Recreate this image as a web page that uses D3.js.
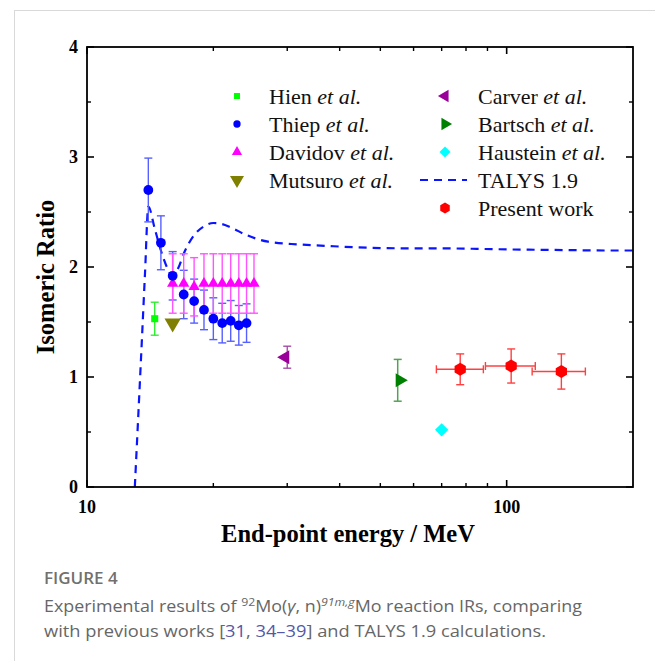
<!DOCTYPE html>
<html><head><meta charset="utf-8">
<script src="https://cdn.jsdelivr.net/npm/d3@7"></script>
<style>
html,body{margin:0;padding:0;background:#fff;}
svg{display:block;}
</style></head>
<body>
<svg id="chart" width="655" height="661"></svg>
<script>
// ---------- data ----------
const thiepE   = [14, 15, 16, 17, 18, 19, 20, 21, 22, 23, 24];
const thiepIR  = [2.70, 2.22, 1.92, 1.75, 1.69, 1.61, 1.53, 1.49, 1.51, 1.47, 1.49];
const thiepErr = [0.29, 0.245, 0.22, 0.22, 0.20, 0.18, 0.19, 0.18, 0.185, 0.18, 0.175];

const davidovE   = [16, 17, 18, 19, 20, 21, 22, 23, 24, 25];
const davidovIR  = [1.85, 1.85, 1.82, 1.85, 1.85, 1.85, 1.85, 1.85, 1.85, 1.85];
const davidovErr = [0.27, 0.27, 0.265, 0.27, 0.27, 0.27, 0.27, 0.27, 0.27, 0.27];

const hienE = [14.5], hienIR = [1.53], hienErr = [0.15];
const mutsuroE = [16], mutsuroIR = [1.49];
const carverE = [30], carverIR = [1.18], carverErr = [0.10];
const bartschE = [55], bartschIR = [0.97], bartschErr = [0.19];
const hausteinE = [70], hausteinIR = [0.52];

const presentE    = [77.5, 102.5, 135];
const presentIR   = [1.07, 1.10, 1.05];
const presentErr  = [0.14, 0.155, 0.16];
const presentElo  = [68, 89, 115];
const presentEhi  = [88, 117, 154];

const talysE  = [13.0, 13.25, 13.5, 13.75, 14.0, 14.5, 15.0, 15.5, 16.0, 16.5, 17, 18, 19, 20, 21, 22, 24, 27, 32, 38, 47, 57, 68, 85, 100, 130, 180, 200];
const talysIR = [0, 0.65, 1.3, 1.95, 2.55, 2.35, 2.15, 2.0, 1.92, 1.99, 2.12, 2.29, 2.37, 2.40, 2.39, 2.36, 2.29, 2.23, 2.205, 2.19, 2.175, 2.17, 2.17, 2.165, 2.16, 2.155, 2.15, 2.15];

const xMajorTicks = [10, 100];
const xMinorTicks = [20, 30, 40, 50, 60, 70, 80, 90];
const yMajorTicks = [0, 1, 2, 3, 4];
const yMinorTicks = [0.5, 1.5, 2.5, 3.5];

const xLabel = "End-point energy / MeV";
const yLabel = "Isomeric Ratio";

// ---------- layout ----------
const svg = d3.select("#chart");
const L = 87, R = 633, T = 47, B = 487;
const x = d3.scaleLog().domain([10, 200]).range([L, R]);
const y = d3.scaleLinear().domain([0, 4]).range([B, T]);
const serif = "'Liberation Serif','Times New Roman',serif";

// card border
svg.append("line").attr("x1", 14).attr("x2", 655).attr("y1", 10.5).attr("y2", 10.5).attr("stroke", "#d9d9d9");
svg.append("line").attr("x1", 14.5).attr("x2", 14.5).attr("y1", 10).attr("y2", 661).attr("stroke", "#d9d9d9");

// ---------- TALYS curve ----------
const talys = talysE.map((e, i) => ({e, v: talysIR[i]}));
const line = d3.line().x(d => x(d.e)).y(d => y(d.v)).curve(d3.curveMonotoneX);
svg.append("path").datum(talys).attr("d", line)
  .attr("fill", "none").attr("stroke", "#0a14ff").attr("stroke-width", 2.2)
  .attr("stroke-dasharray", "8,6");

// ---------- helpers ----------
function zip(E, V, Er) { return E.map((e, i) => ({e, v: V[i], err: Er ? Er[i] : 0})); }

function yErrBars(data, color, cap, width) {
  const g = svg.append("g").attr("stroke", color).attr("stroke-width", width || 1.3).attr("fill", "none");
  data.forEach(d => {
    const cx = x(d.e);
    g.append("line").attr("x1", cx).attr("x2", cx).attr("y1", y(d.v + d.err)).attr("y2", y(d.v - d.err));
    g.append("line").attr("x1", cx - cap).attr("x2", cx + cap).attr("y1", y(d.v + d.err)).attr("y2", y(d.v + d.err));
    g.append("line").attr("x1", cx - cap).attr("x2", cx + cap).attr("y1", y(d.v - d.err)).attr("y2", y(d.v - d.err));
  });
}

function hexPath(r) {
  const pts = d3.range(6).map(k => {
    const a = Math.PI / 6 + k * Math.PI / 3;
    return [r * Math.cos(a), r * Math.sin(a)];
  });
  return "M" + pts.map(p => p.join(",")).join("L") + "Z";
}

function markers(data, type, size, color, rot, dx) {
  svg.append("g").selectAll("path").data(data).join("path")
    .attr("d", type === "hex" ? hexPath(size) : d3.symbol().type(type).size(size)())
    .attr("transform", d => `translate(${x(d.e) + (dx || 0)},${y(d.v)}) rotate(${rot || 0})`)
    .attr("fill", color);
}

// ---------- data series ----------
const thiep = zip(thiepE, thiepIR, thiepErr);
const davidov = zip(davidovE, davidovIR, davidovErr);
const hien = zip(hienE, hienIR, hienErr);
const mutsuro = zip(mutsuroE, mutsuroIR);
const carver = zip(carverE, carverIR, carverErr);
const bartsch = zip(bartschE, bartschIR, bartschErr);
const haustein = zip(hausteinE, hausteinIR);
const present = presentE.map((e, i) => ({e, v: presentIR[i], err: presentErr[i], lo: presentElo[i], hi: presentEhi[i]}));

yErrBars(thiep, "#5560ff", 4, 1.4);
yErrBars(davidov, "#ff55ff", 4, 1.4);
yErrBars(hien, "#22ee22", 4, 1.3);
yErrBars(carver, "#a040a0", 4, 1.3);
yErrBars(bartsch, "#55a055", 4, 1.5);

// present work error bars (x and y)
const pg = svg.append("g").attr("stroke", "#ff4040").attr("stroke-width", 1.4);
present.forEach(d => {
  const cx = x(d.e), cy = y(d.v);
  pg.append("line").attr("x1", cx).attr("x2", cx).attr("y1", y(d.v + d.err)).attr("y2", y(d.v - d.err));
  pg.append("line").attr("x1", cx - 4).attr("x2", cx + 4).attr("y1", y(d.v + d.err)).attr("y2", y(d.v + d.err));
  pg.append("line").attr("x1", cx - 4).attr("x2", cx + 4).attr("y1", y(d.v - d.err)).attr("y2", y(d.v - d.err));
  pg.append("line").attr("x1", x(d.lo)).attr("x2", x(d.hi)).attr("y1", cy).attr("y2", cy);
  pg.append("line").attr("x1", x(d.lo)).attr("x2", x(d.lo)).attr("y1", cy - 4).attr("y2", cy + 4);
  pg.append("line").attr("x1", x(d.hi)).attr("x2", x(d.hi)).attr("y1", cy - 4).attr("y2", cy + 4);
});

markers(davidov, d3.symbolTriangle, 55, "#ff00ff", 0, 0);
markers(thiep, d3.symbolCircle, 75, "#0000ff", 0, 0);
markers(hien, d3.symbolSquare, 50, "#00ff00", 0, 0);
markers(mutsuro, d3.symbolTriangle, 115, "#808000", 180, 0);
markers(carver, d3.symbolTriangle, 85, "#990099", -90, -2);
markers(bartsch, d3.symbolTriangle, 85, "#008000", 90, 2);
markers(haustein, d3.symbolSquare, 88, "#00ffff", 45, 0);
markers(present, "hex", 6.5, "#ff0000", 0, 0);

// ---------- frame & ticks ----------
const ax = svg.append("g").attr("stroke", "#000");
ax.append("rect").attr("x", L).attr("y", T).attr("width", R - L).attr("height", B - T)
  .attr("fill", "none").attr("stroke-width", 1.8);
yMajorTicks.forEach(t => {
  ax.append("line").attr("x1", L).attr("x2", L + 7).attr("y1", y(t)).attr("y2", y(t)).attr("stroke-width", 1.6);
  ax.append("line").attr("x1", R).attr("x2", R - 7).attr("y1", y(t)).attr("y2", y(t)).attr("stroke-width", 1.6);
});
yMinorTicks.forEach(t => {
  ax.append("line").attr("x1", L).attr("x2", L + 4).attr("y1", y(t)).attr("y2", y(t)).attr("stroke-width", 1.4);
  ax.append("line").attr("x1", R).attr("x2", R - 4).attr("y1", y(t)).attr("y2", y(t)).attr("stroke-width", 1.4);
});
xMajorTicks.forEach(t => {
  ax.append("line").attr("x1", x(t)).attr("x2", x(t)).attr("y1", B).attr("y2", B - 7).attr("stroke-width", 1.6);
  ax.append("line").attr("x1", x(t)).attr("x2", x(t)).attr("y1", T).attr("y2", T + 7).attr("stroke-width", 1.6);
});
xMinorTicks.forEach(t => {
  ax.append("line").attr("x1", x(t)).attr("x2", x(t)).attr("y1", B).attr("y2", B - 4).attr("stroke-width", 1.4);
  ax.append("line").attr("x1", x(t)).attr("x2", x(t)).attr("y1", T).attr("y2", T + 4).attr("stroke-width", 1.4);
});

// tick labels
svg.append("g").selectAll("text").data(yMajorTicks).join("text")
  .attr("x", L - 9).attr("y", d => y(d)).attr("dy", "0.35em").attr("text-anchor", "end")
  .attr("font-family", serif).attr("font-weight", "bold").attr("font-size", 18).text(d => d);
svg.append("g").selectAll("text").data(xMajorTicks).join("text")
  .attr("x", d => x(d)).attr("y", B + 26).attr("text-anchor", "middle")
  .attr("font-family", serif).attr("font-weight", "bold").attr("font-size", 18).text(d => d);

// axis titles
svg.append("text").attr("x", 348).attr("y", 542).attr("text-anchor", "middle")
  .attr("font-family", serif).attr("font-weight", "bold").attr("font-size", 24.5).text(xLabel);
svg.append("text").attr("transform", `translate(54,${(T + B) / 2 + 10}) rotate(-90)`).attr("text-anchor", "middle")
  .attr("font-family", serif).attr("font-weight", "bold").attr("font-size", 24.5).text(yLabel);

// ---------- legend ----------
const legendLeft = [
  {name: "Hien", sym: d3.symbolSquare, size: 36, color: "#00ff00", rot: 0},
  {name: "Thiep", sym: d3.symbolCircle, size: 42, color: "#0000ff", rot: 0},
  {name: "Davidov", sym: d3.symbolTriangle, size: 45, color: "#ff00ff", rot: 0},
  {name: "Mutsuro", sym: d3.symbolTriangle, size: 85, color: "#808000", rot: 180}
];
const legendRight = [
  {name: "Carver", sym: d3.symbolTriangle, size: 65, color: "#990099", rot: -90, etal: true},
  {name: "Bartsch", sym: d3.symbolTriangle, size: 65, color: "#008000", rot: 90, etal: true},
  {name: "Haustein", sym: d3.symbolSquare, size: 60, color: "#00ffff", rot: 45, etal: true},
  {name: "TALYS 1.9", line: true, etal: false},
  {name: "Present work", hex: true, color: "#ff0000", etal: false}
];
const rowY = [96, 124, 152, 180, 208];
function legendCol(items, mx, tx) {
  items.forEach((it, i) => {
    const yy = rowY[i];
    if (it.line) {
      svg.append("line").attr("x1", mx - 25).attr("x2", mx + 22).attr("y1", yy).attr("y2", yy)
        .attr("stroke", "#0a14ff").attr("stroke-width", 2.2).attr("stroke-dasharray", "8,6");
    } else if (it.hex) {
      svg.append("path").attr("d", hexPath(5.5)).attr("transform", `translate(${mx},${yy})`).attr("fill", it.color);
    } else {
      svg.append("path").attr("d", d3.symbol().type(it.sym).size(it.size)())
        .attr("transform", `translate(${mx},${yy}) rotate(${it.rot})`).attr("fill", it.color);
    }
    const t = svg.append("text").attr("x", tx).attr("y", yy).attr("dy", "0.35em")
      .attr("font-family", serif).attr("font-size", 22).attr("fill", "#111");
    t.append("tspan").text(it.name);
    if (it.etal !== false) t.append("tspan").attr("font-style", "italic").text(" et al.");
  });
}
legendCol(legendLeft, 237, 269);
legendCol(legendRight, 445, 478);

// ---------- caption ----------
const sans = "'Open Sans','Noto Sans',sans-serif";
svg.append("text").attr("x", 44).attr("y", 584).attr("font-family", sans).attr("font-size", 17)
  .attr("font-weight", 600).attr("fill", "#707070").text("FIGURE 4");
const c1 = svg.append("text").attr("x", 44).attr("y", 612).attr("font-family", sans).attr("font-size", 16)
  .attr("fill", "#666").attr("textLength", 538).attr("lengthAdjust", "spacingAndGlyphs");
c1.append("tspan").text("Experimental results of ");
c1.append("tspan").attr("font-size", 11).attr("dy", -6).text("92");
c1.append("tspan").attr("dy", 6).text("Mo(");
c1.append("tspan").attr("font-style", "italic").text("γ");
c1.append("tspan").text(", n)");
c1.append("tspan").attr("font-size", 11).attr("dy", -6).attr("font-style", "italic").text("91m,g");
c1.append("tspan").attr("dy", 6).text("Mo reaction IRs, comparing");
const c2 = svg.append("text").attr("x", 44).attr("y", 637).attr("font-family", sans).attr("font-size", 16)
  .attr("fill", "#666").attr("textLength", 502).attr("lengthAdjust", "spacingAndGlyphs");
c2.append("tspan").text("with previous works [");
c2.append("tspan").attr("fill", "#5457a8").text("31");
c2.append("tspan").text(", ");
c2.append("tspan").attr("fill", "#5457a8").text("34–39");
c2.append("tspan").text("] and TALYS 1.9 calculations.");
</script>
</body></html>
